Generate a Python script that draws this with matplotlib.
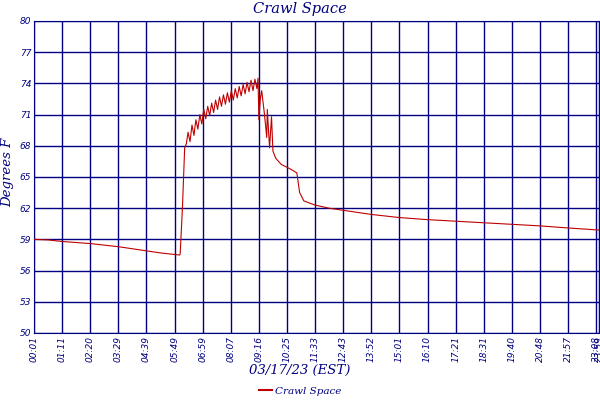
import matplotlib
matplotlib.use("Agg")
import matplotlib.pyplot as plt
from matplotlib.lines import Line2D

NAVY = "#000080"
RED = "#c00000"

# tick labels (equally spaced on the original chart's axis)
tick_labels = ["00:01", "01:11", "02:20", "03:29", "04:39", "05:49", "06:59",
               "08:07", "09:16", "10:25", "11:33", "12:43", "13:52", "15:01",
               "16:10", "17:21", "18:31", "19:40", "20:48", "21:57", "23:08", "23:59"]
tick_pos = list(range(21)) + [20.1]

# readings, x in tick-position units
x_vals = [0, 0.5, 1, 1.5, 2, 2.5, 3, 3.5, 4, 4.5, 5, 5.18, 5.2, 5.28, 5.36, 5.42,
          5.48, 5.55, 5.62, 5.69, 5.76, 5.83, 5.90, 5.97, 6.04, 6.11, 6.18, 6.25,
          6.32, 6.39, 6.46, 6.53, 6.60, 6.67, 6.74, 6.81, 6.88, 6.95, 7.02, 7.09,
          7.16, 7.23, 7.30, 7.37, 7.44, 7.51, 7.58, 7.65, 7.72, 7.79, 7.86, 7.93,
          7.97, 8.0, 8.05, 8.1, 8.2, 8.28, 8.3, 8.38, 8.45, 8.5, 8.6, 8.8, 9.1,
          9.35, 9.45, 9.6, 10, 10.5, 11, 12, 13, 14, 15, 16, 17, 18, 19, 20.1]
temps = [59.0, 58.95, 58.8, 58.7, 58.6, 58.45, 58.3, 58.1, 57.9, 57.7, 57.55, 57.5,
         57.6, 62.0, 67.8, 68.2,
         69.3, 68.4, 70.0, 69.0, 70.5, 69.6, 71.0, 70.1, 71.5, 70.6, 71.8, 70.9,
         72.1, 71.2, 72.4, 71.5, 72.7, 71.8, 72.9, 72.0, 73.1, 72.2, 73.3, 72.4,
         73.5, 72.6, 73.7, 72.8, 73.9, 73.0, 74.1, 73.2, 74.3, 73.3, 74.4, 73.5,
         74.5, 70.5, 72.5, 73.3, 71.0, 68.8, 71.5, 67.8, 70.8, 67.5, 66.8, 66.2, 65.8,
         65.4, 63.5, 62.7, 62.3, 62.0, 61.8, 61.4, 61.1, 60.9, 60.75, 60.6, 60.45,
         60.3, 60.1, 59.9]

y_ticks = [50, 53, 56, 59, 62, 65, 68, 71, 74, 77, 80]

fig = plt.figure(figsize=(6, 4), dpi=100)
ax = fig.add_axes([34 / 600, 1 - 333 / 400, 565 / 600, 312 / 400])
ax.plot(x_vals, temps, color=RED, lw=0.8, zorder=3)
ax.set_xlim(0, 20.1)
ax.set_ylim(50, 80)
ax.set_xticks(tick_pos)
ax.set_xticklabels(tick_labels, rotation=90, fontsize=6.5, color=NAVY, style="italic")
ax.set_yticks(y_ticks)
ax.set_yticklabels([str(v) for v in y_ticks], fontsize=6.5, color=NAVY, style="italic")
ax.tick_params(length=0, pad=2)
ax.grid(True, color=NAVY, lw=1.0)
for s in ax.spines.values():
    s.set_color(NAVY)

serif = dict(family="DejaVu Serif", style="italic", color=NAVY)
fig.text(0.5, 0.978, "Crawl Space", ha="center", va="center", fontsize=10.5, **serif)
fig.text(0.5, 0.075, "03/17/23 (EST)", ha="center", va="center", fontsize=9.5, **serif)
fig.text(0.013, 0.57, "Degrees F", rotation=90, ha="center", va="center", fontsize=9.5, **serif)
fig.legend(handles=[Line2D([], [], color=RED, lw=1.5)], labels=["Crawl Space"],
           loc="center", bbox_to_anchor=(0.5, 0.022), frameon=False,
           prop=dict(family="DejaVu Serif", style="italic", size=7.5),
           labelcolor=NAVY, handlelength=1.2, handletextpad=0.3)
fig.savefig("out.png", dpi=100)
